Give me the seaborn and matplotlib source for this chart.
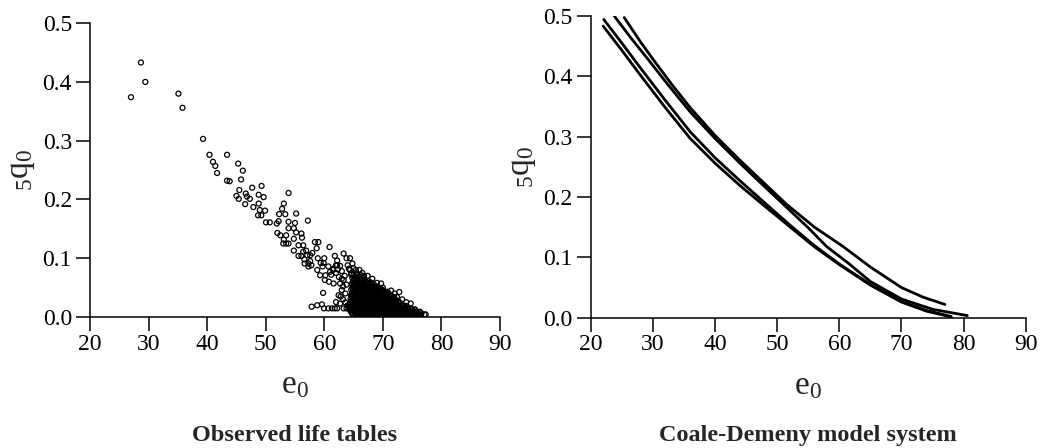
import matplotlib
matplotlib.use("Agg")
import matplotlib.pyplot as plt
import seaborn as sns
import pandas as pd

# observed life tables: scattered points
obs_e0 = [27.0, 28.7, 29.45, 35.1, 35.8, 39.3, 40.4, 41.0, 41.4, 41.7,
          43.4, 43.4, 43.85, 45.3, 46.1, 45.8, 45.5, 45.0, 45.4, 46.6,
          46.8, 47.3, 46.5, 47.7, 47.9, 48.8, 49.3, 49.65, 48.8, 49.0,
          48.7, 49.25, 49.9, 50.05, 50.7, 53.9, 53.1, 52.8, 52.3, 53.35,
          53.9, 55.2, 55.0, 52.2, 51.9, 53.9, 54.8, 52.0, 52.5, 53.1,
          53.5, 53.5, 53.9, 53.0, 55.2, 54.8, 56.1, 56.2, 57.2, 55.6,
          56.4, 54.8, 55.6, 56.1, 56.4, 56.9, 56.6, 57.1, 57.6, 57.96,
          58.4, 59.0, 58.7, 56.65, 57.3, 57.3, 57.8, 57.6, 58.9, 59.4,
          60.0, 59.9, 60.9, 58.8, 59.3, 60.2, 59.7, 60.7, 61.0, 61.8,
          62.2, 62.2, 62.7, 61.5, 60.1, 60.8, 61.6, 63.3, 63.8, 64.4,
          64.8, 64.4, 65.4, 66.0, 66.8, 69.7, 74.75, 72.4, 59.8, 57.85,
          58.8, 59.6, 59.95, 60.7, 61.3, 61.8, 62.2, 62.0, 62.7, 62.45,
          63.0, 62.7, 63.3, 63.3, 63.8, 70.65, 72.8, 70.8, 63.5, 63.0,
          62.5, 63.8, 62.0, 61.5, 62.3, 63.0, 64.2, 63.6, 63.2, 62.8,
          63.6, 64.0, 63.2, 62.0, 61.2, 64.0, 65.0, 64.6, 66.5, 67.4,
          68.2, 69.0, 70.0, 71.4, 72.0, 73.3, 74.0, 75.5, 76.3, 77.3]
obs_q0 = [0.374, 0.433, 0.400, 0.380, 0.356, 0.303, 0.276, 0.264, 0.257, 0.245,
          0.276, 0.232, 0.231, 0.261, 0.249, 0.234, 0.216, 0.206, 0.201, 0.210,
          0.205, 0.201, 0.192, 0.220, 0.187, 0.208, 0.223, 0.204, 0.193, 0.182,
          0.173, 0.173, 0.181, 0.161, 0.161, 0.211, 0.193, 0.184, 0.175, 0.175,
          0.162, 0.176, 0.160, 0.163, 0.159, 0.151, 0.151, 0.143, 0.139, 0.1315,
          0.139, 0.125, 0.125, 0.125, 0.144, 0.133, 0.142, 0.135, 0.164, 0.122,
          0.122, 0.113, 0.104, 0.104, 0.111, 0.113, 0.098, 0.105, 0.105, 0.109,
          0.1275, 0.1275, 0.117, 0.091, 0.091, 0.086, 0.088, 0.095, 0.100, 0.092,
          0.100, 0.092, 0.119, 0.080, 0.071, 0.071, 0.086, 0.086, 0.077, 0.104,
          0.096, 0.088, 0.087, 0.080, 0.063, 0.060, 0.057, 0.108, 0.100, 0.100,
          0.091, 0.080, 0.080, 0.080, 0.070, 0.057, 0.023, 0.034, 0.041, 0.0176,
          0.020, 0.0215, 0.0147, 0.0147, 0.0147, 0.0147, 0.0147, 0.0255, 0.023, 0.037,
          0.046, 0.057, 0.063, 0.0147, 0.0147, 0.0425, 0.0425, 0.043, 0.070, 0.065,
          0.068, 0.055, 0.075, 0.082, 0.081, 0.078, 0.082, 0.040, 0.030, 0.035,
          0.025, 0.020, 0.052, 0.088, 0.072, 0.088, 0.083, 0.072, 0.075, 0.070,
          0.065, 0.058, 0.050, 0.045, 0.040, 0.030, 0.025, 0.013, 0.008, 0.0045]

# the dense block of low-mortality tables, one row of e0 values per 5q0 level
cluster_q0 = [0.004, 0.0065, 0.009, 0.0115, 0.014, 0.0165, 0.019, 0.0215,
              0.024, 0.0265, 0.029, 0.0315, 0.034, 0.0365, 0.039, 0.0415,
              0.044, 0.0465, 0.049, 0.0515, 0.054, 0.0565, 0.059, 0.0615,
              0.064, 0.0665, 0.069, 0.0715, 0.074]
cluster_e0 = [
    [64.9, 65.5, 66.1, 66.7, 67.2, 67.8, 68.4, 69.0, 69.6, 70.1, 70.7,
     71.3, 71.9, 72.5, 73.0, 73.6, 74.2, 74.8, 75.4, 76.0, 76.5, 77.1],
    [64.7, 65.3, 65.9, 66.4, 67.0, 67.6, 68.2, 68.8, 69.3, 69.9, 70.5,
     71.1, 71.7, 72.2, 72.8, 73.4, 74.0, 74.6, 75.2, 75.8, 76.6],
    [64.6, 65.2, 65.8, 66.4, 67.0, 67.5, 68.1, 68.7, 69.3, 69.9, 70.4,
     71.0, 71.6, 72.2, 72.8, 73.3, 73.9, 74.5, 75.1, 75.7, 76.3],
    [64.4, 65.0, 65.6, 66.2, 66.8, 67.4, 68.0, 68.5, 69.1, 69.7, 70.3,
     70.9, 71.5, 72.0, 72.6, 73.2, 73.8, 74.4, 75.0, 75.5],
    [64.3, 64.9, 65.5, 66.1, 66.7, 67.3, 67.8, 68.4, 69.0, 69.6, 70.2,
     70.7, 71.3, 71.9, 72.5, 73.1, 73.7, 74.3, 74.9],
    [64.2, 64.8, 65.4, 66.0, 66.6, 67.1, 67.7, 68.3, 68.9, 69.5, 70.0,
     70.6, 71.2, 71.8, 72.4, 73.0, 73.6, 74.3],
    [64.5, 65.1, 65.7, 66.3, 66.9, 67.4, 68.0, 68.6, 69.2, 69.8, 70.4,
     70.9, 71.5, 72.1, 72.7, 73.3, 73.9],
    [64.4, 65.0, 65.6, 66.2, 66.8, 67.4, 67.9, 68.5, 69.1, 69.7, 70.3,
     70.9, 71.4, 72.0, 72.6, 73.2],
    [64.7, 65.3, 65.9, 66.5, 67.1, 67.7, 68.2, 68.8, 69.4, 70.0, 70.6,
     71.2, 71.7, 72.3, 72.9],
    [64.6, 65.2, 65.8, 66.3, 66.9, 67.5, 68.1, 68.7, 69.3, 69.9, 70.4,
     71.0, 71.6, 72.2, 72.7],
    [64.6, 65.2, 65.8, 66.4, 67.0, 67.5, 68.1, 68.7, 69.3, 69.9, 70.5,
     71.0, 71.6, 72.2],
    [64.5, 65.1, 65.7, 66.3, 66.9, 67.4, 68.0, 68.6, 69.2, 69.8, 70.4,
     70.9, 71.5, 72.0],
    [64.8, 65.4, 66.0, 66.6, 67.2, 67.8, 68.3, 68.9, 69.5, 70.1, 70.7,
     71.3, 71.8],
    [64.6, 65.2, 65.8, 66.4, 67.0, 67.5, 68.1, 68.7, 69.3, 69.9, 70.4,
     71.0, 71.5],
    [64.7, 65.3, 65.9, 66.5, 67.0, 67.6, 68.2, 68.8, 69.4, 70.0, 70.6, 71.1],
    [64.8, 65.4, 66.0, 66.6, 67.2, 67.8, 68.3, 68.9, 69.5, 70.1, 70.6],
    [64.9, 65.5, 66.1, 66.7, 67.3, 67.9, 68.5, 69.0, 69.6, 70.2],
    [64.6, 65.2, 65.8, 66.4, 67.0, 67.6, 68.2, 68.8, 69.4, 69.9],
    [64.8, 65.4, 66.0, 66.6, 67.1, 67.7, 68.3, 68.9, 69.5],
    [64.9, 65.5, 66.1, 66.7, 67.3, 67.9, 68.5, 69.0],
    [65.0, 65.6, 66.2, 66.8, 67.4, 68.0, 68.6],
    [64.7, 65.3, 65.9, 66.5, 67.1, 67.6, 68.2],
    [64.9, 65.5, 66.1, 66.7, 67.3, 67.9],
    [65.0, 65.6, 66.2, 66.8, 67.4],
    [65.1, 65.7, 66.3, 66.9],
    [64.8, 65.4, 66.0, 66.6],
    [65.3, 65.9, 66.5],
    [65.0, 65.6, 66.2],
    [64.6, 65.6],
]

# Coale-Demeny model curves (four regional families)
model_a_e0 = [25.4, 28.0, 30.1, 33.0, 36.0, 40.0, 44.0, 48.0, 51.5, 56.0, 60.6, 65.0, 70.0, 73.5, 77.0]
model_a_q0 = [0.497, 0.457, 0.427, 0.387, 0.348, 0.302, 0.261, 0.222, 0.188, 0.150, 0.118, 0.084, 0.050, 0.034, 0.022]
model_b_e0 = [23.8, 26.5, 29.3, 32.5, 36.0, 40.0, 44.0, 48.0, 51.5, 55.0, 58.0, 61.5, 65.0, 70.0, 75.0, 80.6]
model_b_q0 = [0.4995, 0.463, 0.427, 0.385, 0.341, 0.297, 0.256, 0.217, 0.183, 0.149, 0.1176, 0.090, 0.060, 0.031, 0.014, 0.0035]
model_c_e0 = [22.1, 25.0, 27.9, 32.0, 36.0, 40.0, 44.0, 48.8, 52.0, 55.8, 60.0, 65.0, 70.0, 74.0, 78.0]
model_c_q0 = [0.494, 0.455, 0.415, 0.360, 0.308, 0.265, 0.227, 0.183, 0.154, 0.121, 0.089, 0.055, 0.027, 0.012, 0.002]
model_d_e0 = [22.0, 25.0, 27.9, 32.0, 36.0, 40.0, 44.0, 48.8, 52.0, 55.8, 60.0, 65.0, 70.0, 74.0, 78.0]
model_d_q0 = [0.483, 0.443, 0.403, 0.348, 0.297, 0.256, 0.219, 0.178, 0.151, 0.119, 0.088, 0.054, 0.026, 0.011, 0.0015]

x_ticks = [20, 30, 40, 50, 60, 70, 80, 90]
y_ticks = [0.0, 0.1, 0.2, 0.3, 0.4, 0.5]

# build tables for seaborn
all_e0 = list(obs_e0)
all_q0 = list(obs_q0)
for q, row in zip(cluster_q0, cluster_e0):
    all_e0 += row
    all_q0 += [q] * len(row)
obs = pd.DataFrame({"e0": all_e0, "q0": all_q0})

frames = []
for name, xs, ys in [("A", model_a_e0, model_a_q0), ("B", model_b_e0, model_b_q0),
                     ("C", model_c_e0, model_c_q0), ("D", model_d_e0, model_d_q0)]:
    frames.append(pd.DataFrame({"e0": xs, "q0": ys, "model": name}))
models = pd.concat(frames, ignore_index=True)

sns.set_style("ticks")
plt.rcParams["font.family"] = ["Liberation Serif", "DejaVu Serif"]
plt.rcParams["mathtext.fontset"] = "custom"
plt.rcParams["mathtext.rm"] = "Liberation Serif"
plt.rcParams["mathtext.it"] = "Liberation Serif"
plt.rcParams["mathtext.default"] = "regular"

fig = plt.figure(figsize=(10.46, 4.48), dpi=100)
ax1 = fig.add_axes([0.0860, 0.2924, 0.392, 0.656])
ax2 = fig.add_axes([0.5647, 0.2908, 0.4159, 0.674])

sns.scatterplot(data=obs, x="e0", y="q0", ax=ax1, marker="o", s=13,
                facecolor="none", edgecolor="black", linewidth=0.9)
sns.lineplot(data=models, x="e0", y="q0", hue="model", units="model",
             estimator=None, sort=False, ax=ax2, legend=False,
             palette=["black"] * 4, linewidth=2.0)

for ax in (ax1, ax2):
    ax.set_xlim(20, 90)
    ax.set_ylim(0, 0.5)
    ax.set_xticks(x_ticks)
    ax.set_yticks(y_ticks)
    ax.set_yticklabels([f"{v:.1f}" for v in y_ticks])
    ax.tick_params(direction="out", length=10, width=1.1, labelsize=17,
                   colors="black", pad=2)
    ax.tick_params(axis="y", pad=3)
    for sp in ("left", "bottom"):
        ax.spines[sp].set_linewidth(1.1)
        ax.spines[sp].set_color("black")
    sns.despine(ax=ax)
    ax.set_xlabel(r"$e_0$", fontsize=24, labelpad=11)
    ax.set_ylabel(r"${}_5q_0$", fontsize=24, labelpad=4)

fig.text(0.282, 0.029, "Observed life tables", ha="center", va="center",
         fontsize=17.5, fontweight="bold")
fig.text(0.7725, 0.029, "Coale-Demeny model system", ha="center", va="center",
         fontsize=17.5, fontweight="bold")

fig.savefig("out.png", dpi=100)
